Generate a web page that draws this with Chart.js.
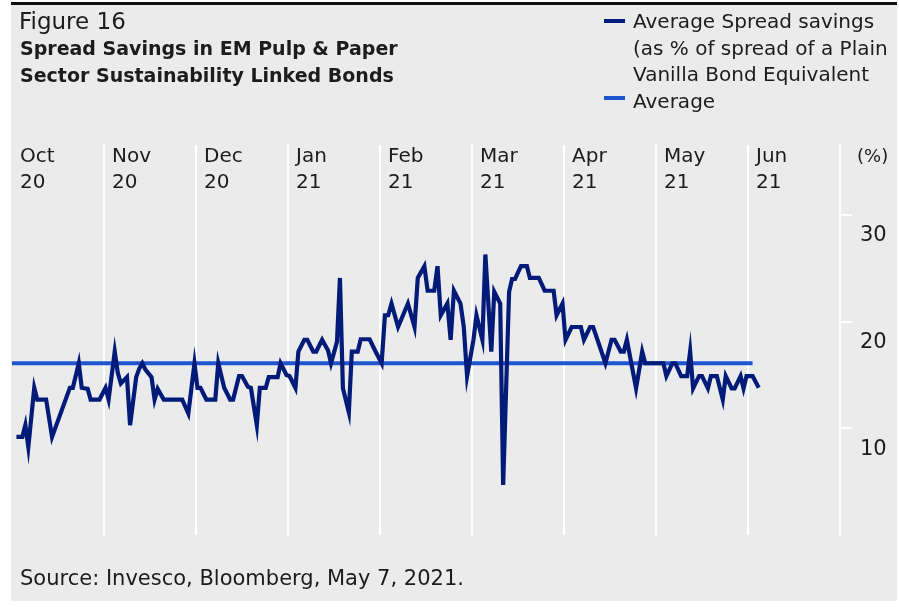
<!DOCTYPE html>
<html>
<head>
<meta charset="utf-8">
<script src="https://cdn.jsdelivr.net/npm/chart.js@4.4.1/dist/chart.umd.min.js"></script>
<style>
  html, body { margin: 0; padding: 0; background: #ffffff; width: 899px; height: 607px; overflow: hidden; }
  body { position: relative; font-family: "DejaVu Sans", sans-serif; color: #1c1c1c; }
  #panel { position: absolute; left: 11px; top: 5px; width: 886px; height: 596px; background: #ebebeb; }
  #topbar { position: absolute; left: 11px; top: 2px; width: 886px; height: 3px; background: #111111; }
  #chartWrap { position: absolute; left: 0; top: 0; width: 899px; height: 607px; }
  .txt { position: absolute; white-space: nowrap; line-height: 26.5px; }
  #fig { left: 19px; top: 8px; font-size: 23px; }
  #title { left: 20px; top: 35px; font-size: 19px; font-weight: bold; }
  #legend { left: 633px; top: 8px; font-size: 20px; }
  .dash { position: absolute; width: 21px; height: 4px; }
  #source { left: 20px; top: 565px; font-size: 21px; }
</style>
</head>
<body>
<div id="panel"></div>
<div id="topbar"></div>
<div id="chartWrap"><canvas id="c" width="899" height="607"></canvas></div>
<div class="txt" id="fig">Figure 16</div>
<div class="txt" id="title">Spread Savings in EM Pulp &amp; Paper<br>Sector Sustainability Linked Bonds</div>
<div class="dash" style="left:604px;top:19px;background:#031b78"></div>
<div class="dash" style="left:604px;top:96px;background:#1f56cf"></div>
<div class="txt" id="legend">Average Spread savings<br>(as % of spread of a Plain<br>Vanilla Bond Equivalent<br>Average</div>
<div class="txt" id="source">Source: Invesco, Bloomberg, May 7, 2021.</div>
<script>
// ---- data ----
const monthLabels = [["Oct","20"],["Nov","20"],["Dec","20"],["Jan","21"],["Feb","21"],["Mar","21"],["Apr","21"],["May","21"],["Jun","21"],["\u2002(%)",""]];
const yTicks = [10, 20, 30];
const dates = [
"2020-10-02","2020-10-04","2020-10-05","2020-10-06","2020-10-08","2020-10-09","2020-10-12","2020-10-14","2020-10-20","2020-10-21",
"2020-10-23","2020-10-24","2020-10-26","2020-10-27","2020-10-30","2020-11-01","2020-11-02","2020-11-04","2020-11-05","2020-11-06",
"2020-11-08","2020-11-09","2020-11-11","2020-11-12","2020-11-13","2020-11-14","2020-11-16","2020-11-17","2020-11-18","2020-11-20",
"2020-11-26","2020-11-28","2020-11-30","2020-12-01","2020-12-02","2020-12-04","2020-12-07","2020-12-08","2020-12-10","2020-12-12",
"2020-12-13","2020-12-15","2020-12-16","2020-12-18","2020-12-19","2020-12-21","2020-12-22","2020-12-24","2020-12-25","2020-12-28",
"2020-12-29","2020-12-31","2021-01-01","2021-01-03","2021-01-04","2021-01-06","2021-01-07","2021-01-09","2021-01-10","2021-01-12",
"2021-01-14","2021-01-15","2021-01-17","2021-01-18","2021-01-19","2021-01-21","2021-01-22","2021-01-24","2021-01-25","2021-01-28",
"2021-01-30","2021-02-01","2021-02-02","2021-02-03","2021-02-04","2021-02-06","2021-02-09","2021-02-11","2021-02-12","2021-02-14",
"2021-02-15","2021-02-17","2021-02-18","2021-02-19","2021-02-21","2021-02-22","2021-02-23","2021-02-25","2021-02-26","2021-02-27",
"2021-03-01","2021-03-02","2021-03-04","2021-03-05","2021-03-07","2021-03-08","2021-03-10","2021-03-11","2021-03-13","2021-03-14",
"2021-03-15","2021-03-17","2021-03-19","2021-03-20","2021-03-23","2021-03-25","2021-03-28","2021-03-29","2021-03-31","2021-04-01",
"2021-04-03","2021-04-06","2021-04-07","2021-04-09","2021-04-10","2021-04-14","2021-04-16","2021-04-17","2021-04-19","2021-04-20",
"2021-04-21","2021-04-24","2021-04-26","2021-04-27","2021-05-03","2021-05-04","2021-05-06","2021-05-07","2021-05-09","2021-05-11",
"2021-05-12","2021-05-13","2021-05-15","2021-05-16","2021-05-18","2021-05-19","2021-05-21","2021-05-23","2021-05-24","2021-05-26",
"2021-05-27","2021-05-29","2021-05-30","2021-05-31","2021-06-02","2021-06-04"
];
const spreadSavings = [
9.2,9.2,10.3,8.25,13.8,12.7,12.7,9.2,13.8,13.8,
16.1,13.8,13.7,12.7,12.7,13.8,12.7,17.2,15.2,14.2,
14.8,10.3,14.8,15.6,16.1,15.5,14.8,12.7,13.7,12.7,
12.7,11.4,16.1,13.8,13.8,12.7,12.7,16.1,13.8,12.7,
12.7,14.9,14.9,13.9,13.8,10.3,13.8,13.8,14.8,14.8,
16.1,15.0,14.9,13.8,17.2,18.3,18.3,17.2,17.2,18.3,
17.3,16.1,18.1,24.1,13.75,11.5,17.2,17.2,18.35,18.35,
17.2,16.1,20.6,20.6,21.7,19.5,21.7,19.5,24.1,25.2,
22.9,22.9,25.2,20.6,21.7,18.3,22.9,21.7,19.5,14.9,
18.3,20.6,18.3,26.3,17.2,22.8,21.7,4.7,22.8,24.0,
24.0,25.2,25.2,24.1,24.1,22.9,22.9,20.6,21.7,18.3,
19.5,19.5,18.3,19.5,19.5,16.1,18.3,18.3,17.2,17.2,
18.3,13.75,17.2,16.1,16.1,14.9,16.1,16.1,14.9,14.9,
17.2,13.75,14.9,14.9,13.75,14.9,14.9,12.7,14.9,13.75,
13.75,14.9,13.75,14.9,14.9,13.8
];
const averageValue = 16.1;
const averageEnd = "2021-06-02";
const startMonth = { year: 2020, month: 10 };

// date -> position in months from the first month (scale units)
function monthPos(s) {
  const [y, m, d] = s.split("-").map(Number);
  const k = (y - startMonth.year) * 12 + (m - startMonth.month);
  const dim = new Date(y, m, 0).getDate();
  return k + (d - 0.5) / dim;
}

const FONT = "DejaVu Sans";
const lineData = dates.map((d, i) => ({ x: monthPos(d), y: spreadSavings[i] }));
const avgData = [{ x: 0, y: averageValue }, { x: monthPos(averageEnd), y: averageValue }];

new Chart(document.getElementById("c"), {
  type: "line",
  data: {
    datasets: [
      { label: "Average Spread savings", data: lineData, borderColor: "#031b78", borderWidth: 4.2, pointRadius: 0, tension: 0, fill: false },
      { label: "Average", data: avgData, borderColor: "#1f56cf", borderWidth: 4, pointRadius: 0, tension: 0, fill: false }
    ]
  },
  options: {
    responsive: false,
    animation: false,
    events: [],
    layout: { padding: { left: 12, right: 0, top: 0, bottom: 72 } },
    plugins: { legend: { display: false }, title: { display: false }, tooltip: { enabled: false } },
    scales: {
      x: {
        type: "linear",
        position: "top",
        min: 0,
        max: monthLabels.length - 1,
        afterFit: (s) => { s.height = 215; },
        grid: {
          color: (ctx) => (ctx.tick && ctx.tick.value === 0) ? "rgba(255,255,255,0)" : "#ffffff",
          lineWidth: 2, drawTicks: true, tickLength: 70
        },
        border: { display: false },
        ticks: {
          stepSize: 1,
          autoSkip: false,
          maxRotation: 0,
          minRotation: 0,
          align: "start",
          labelOffset: 8,
          padding: -51,
          color: "#1c1c1c",
          font: (ctx) => ({ family: FONT, size: (ctx.index === monthLabels.length - 1) ? 18 : 20, lineHeight: (ctx.index === monthLabels.length - 1) ? 26 / 18 : 1.3 }),
          callback: (v) => monthLabels[Math.round(v)] || ""
        }
      },
      y: {
        type: "linear",
        position: "right",
        min: 0,
        max: 30,
        afterFit: (s) => { s.width = 59; },
        afterBuildTicks: (s) => { s.ticks = yTicks.map(v => ({ value: v })); },
        grid: { drawOnChartArea: false, drawTicks: true, tickLength: 12, color: "#ffffff", lineWidth: 2 },
        border: { display: false },
        ticks: {
          padding: 8,
          labelOffset: 21,
          color: "#1c1c1c",
          font: { family: FONT, size: 21 },
          callback: (v) => String(v)
        }
      }
    }
  }
});
</script>
</body>
</html>
